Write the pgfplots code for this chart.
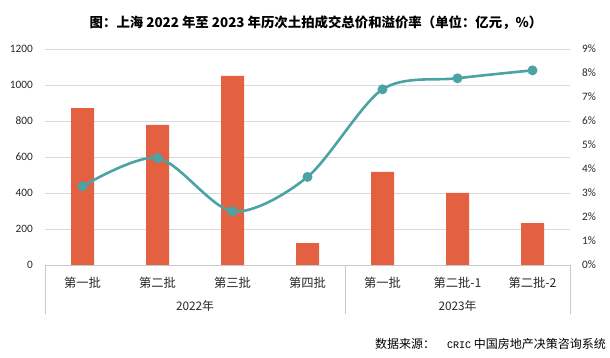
\documentclass[border=0pt]{standalone}
\usepackage{pgfplots}
\pgfplotsset{compat=1.18}
\usepackage{fontspec}
\setmainfont{Carlito}
\newfontfamily\cjk{Noto Sans CJK SC}
\newfontfamily\mono{Liberation Mono}
\definecolor{barc}{RGB}{227,96,64}
\definecolor{linec}{RGB}{74,163,165}
\definecolor{gridc}{RGB}{217,217,217}
\definecolor{axc}{RGB}{200,200,200}
\definecolor{txt}{RGB}{40,40,40}
\begin{document}
\begin{tikzpicture}[x=1pt,y=1pt]
\path[use as bounding box] (0,0) rectangle (610,358);
\fill[white] (0,0) rectangle (610,358);
\begin{axis}[
  at={(45pt,93pt)}, anchor=south west,
  scale only axis, width=525pt, height=216pt,
  xmin=-0.5, xmax=6.5, ymin=0, ymax=1200,
  axis x line*=bottom, axis y line*=left,
  x axis line style={axc, line width=0.8pt, -},
  y axis line style={draw=none},
  major tick length=0pt,
  ytick={0,200,400,600,800,1000,1200},
  yticklabels={0,200,400,600,800,1000,1200},
  yticklabel style={anchor=east, inner sep=0pt, xshift=-12pt, font=\fontsize{11.3}{12}\selectfont, text=txt},
  ymajorgrids, grid style={gridc, line width=0.8pt},
  xtick={0,1,2,3,4,5,6},
  xticklabels={第一批,第二批,第三批,第四批,第一批,第二批-1,第二批-2},
  xticklabel style={anchor=center, inner sep=0pt, yshift=-18pt, font=\cjk\fontsize{12.3}{13}\selectfont, text=txt},
  /pgf/number format/assume math mode=true,
  clip=false,
]
\addplot[ybar, bar width=23pt, fill=barc, draw=none] coordinates {
  (0,872) (1,778) (2,1050) (3,122) (4,517) (5,400) (6,233)};
\draw[axc, line width=0.8pt] (axis cs:-0.5,0) -- ++(0pt,-49pt);
\draw[axc, line width=0.8pt] (axis cs:3.5,0) -- ++(0pt,-49pt);
\draw[axc, line width=0.8pt] (axis cs:6.5,0) -- ++(0pt,-49pt);
\node[font=\cjk\fontsize{11.8}{12}\selectfont, text=txt, inner sep=0pt] at ([yshift=-41pt]axis cs:1.5,0) {2022年};
\node[font=\cjk\fontsize{11.8}{12}\selectfont, text=txt, inner sep=0pt] at ([yshift=-41pt]axis cs:5,0) {2023年};
\end{axis}
\begin{axis}[
  at={(45pt,93pt)}, anchor=south west,
  scale only axis, width=525pt, height=216pt,
  xmin=-0.5, xmax=6.5, ymin=0, ymax=9,
  axis x line=none, axis y line*=right,
  y axis line style={draw=none},
  major tick length=0pt,
  xtick=\empty,
  ytick={0,1,2,3,4,5,6,7,8,9},
  yticklabels={0\%,1\%,2\%,3\%,4\%,5\%,6\%,7\%,8\%,9\%},
  yticklabel style={anchor=west, inner sep=0pt, xshift=12pt, font=\fontsize{11.3}{12}\selectfont, text=txt},
  clip=false,
]
\addplot[linec, line width=2.6pt, smooth, tension=0.5, mark=*, mark size=3.6pt, mark options={fill=linec, draw=none}] coordinates {
  (0,3.28) (1,4.46) (2,2.24) (3,3.67) (4,7.32) (5,7.78) (6,8.11)};
\end{axis}
\node[font=\cjk\bfseries\fontsize{13.4}{15}\selectfont] at (316,335) {图：上海 2022 年至 2023 年历次土拍成交总价和溢价率（单位：亿元，\%）};
\node[anchor=east, inner sep=0pt, font=\cjk\fontsize{12}{13}\selectfont] at (606,14) {数据来源：\hspace{12pt}{\mono\fontsize{10}{12}\selectfont CRIC} 中国房地产决策咨询系统};
\end{tikzpicture}
\end{document}
